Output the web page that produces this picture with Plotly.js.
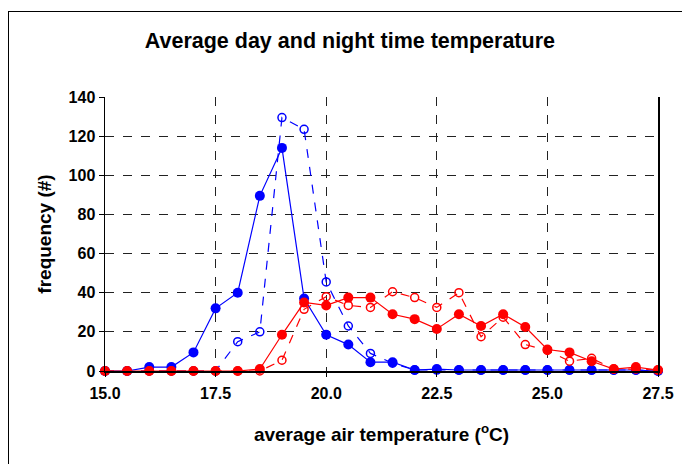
<!DOCTYPE html>
<html><head><meta charset="utf-8">
<script src="https://cdn.plot.ly/plotly-3.0.1.min.js"></script>
<style>
html,body{margin:0;padding:0;background:#fff;overflow:hidden}
#plot{width:682px;height:464px;position:absolute;left:0;top:0}
#frame{position:absolute;left:8px;top:11px;width:700px;height:470px;border:1px solid #000;pointer-events:none}
</style></head>
<body>
<div id="plot"></div>
<div id="frame"></div>
<script>
const temps = [15,15.5,16,16.5,17,17.5,18,18.5,19,19.5,20,20.5,21,21.5,22,22.5,23,23.5,24,24.5,25,25.5,26,26.5,27,27.5];
const blueFilled = [0,0,2,2,9.5,32,40,89.5,114,37,18.5,13.5,4.5,4.5,0.5,1,0.5,0.5,0.5,0.5,0.5,0.5,0.5,0.5,0.5,0];
const blueOpen   = [0,0,0,0,0,0,15,20,129.5,123.5,45.5,23,9,4,0.5,0.5,0.5,0.5,0.5,0.5,0.5,0.5,0.5,0.5,0.5,0];
const redFilled  = [0,0,0,0,0,0,0,1,18.5,35,33.5,37.5,37.5,29,26.5,21.5,29,23,29,22.5,11,9.5,5,1,2,0.5];
const redOpen    = [0,0,0,0,0,0,0,0,5.5,31.5,38,33.5,32.5,40.5,37.5,32.5,40,17.5,27.5,13.5,10.5,5,6.5,1,1,0.5];
const xTicks = [15,17.5,20,22.5,25,27.5];
const xTickText = ['15.0','17.5','20.0','22.5','25.0','27.5'];
const yTicks = [0,20,40,60,80,100,120,140];

const BLUE='#0000FF', RED='#FF0000';
function series(y,color,filled){
  return {x:temps,y:y,type:'scatter',mode:'lines+markers',
    line:{color:color,width:1.2,dash:filled?'solid':'dash'},
    marker:filled?{color:color,size:10,symbol:'circle'}:{color:color,size:8,symbol:'circle-open',line:{color:color,width:1.5}},
    showlegend:false,cliponaxis:false};
}
const data=[series(blueOpen,BLUE,false),series(blueFilled,BLUE,true),series(redOpen,RED,false),series(redFilled,RED,true)];
const font='Liberation Sans, Arial, sans-serif';
const layout={
  width:682,height:464,
  margin:{l:105,r:24,t:97,b:93},
  paper_bgcolor:'#fff',plot_bgcolor:'#fff',
  showlegend:false,
  title:{text:'<b>Average day and night time temperature</b>',font:{family:font,size:21.5,color:'#000'},x:0.513,xanchor:'center',y:0.913,yanchor:'middle'},
  xaxis:{range:[15,27.5],tickvals:xTicks,ticktext:xTickText,showline:true,linecolor:'#000',linewidth:1.5,mirror:false,
    showgrid:true,gridcolor:'#222',griddash:'dash',gridwidth:1,zeroline:false,
    ticks:'outside',ticklen:4,tickcolor:'#000',ticklabelstandoff:3,
    tickfont:{family:font,size:16,color:'#000',weight:'bold'},
    title:{text:'<b>average air temperature (<sup>o</sup>C)</b>',font:{family:font,size:19,color:'#000'},standoff:27}},
  yaxis:{range:[0,140],tickvals:yTicks,showline:true,linecolor:'#000',linewidth:1.5,mirror:true,
    showgrid:true,gridcolor:'#222',griddash:'dash',gridwidth:1,zeroline:false,
    ticks:'outside',ticklen:5,tickcolor:'#000',
    tickfont:{family:font,size:16,color:'#000',weight:'bold'},
    title:{text:'<b>frequency (#)</b>',font:{family:font,size:19,color:'#000'},standoff:12}}
};
Plotly.newPlot('plot',data,layout,{displayModeBar:false,staticPlot:true});
</script>
</body></html>
